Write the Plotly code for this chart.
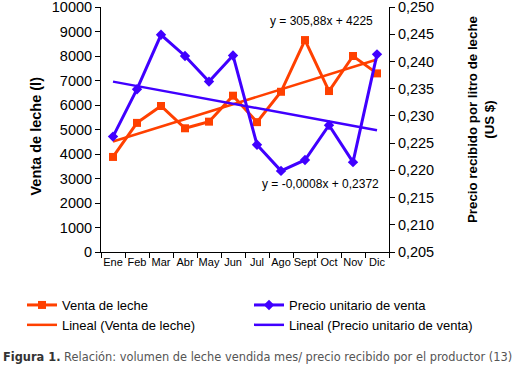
import numpy as np
import plotly.graph_objects as go

meses = ["Ene", "Feb", "Mar", "Abr", "May", "Jun", "Jul", "Ago", "Sept", "Oct", "Nov", "Dic"]
venta_leche = [3880, 5270, 5960, 5050, 5320, 6380, 5300, 6540, 8650, 6570, 8000, 7290]
precio_unitario = [0.2262, 0.2349, 0.2449, 0.2410, 0.2363, 0.2411, 0.2247, 0.2199, 0.2219, 0.2283, 0.2215, 0.2413]
eq_venta = "y = 305,88x + 4225"
eq_precio = "y = -0,0008x + 0,2372"

idx = np.arange(1, len(meses) + 1)
fit_v = np.polyfit(idx, venta_leche, 1)
fit_p = np.polyfit(idx, precio_unitario, 1)
trend_v = np.polyval(fit_v, idx)
trend_p = np.polyval(fit_p, idx)

ORANGE = "#FF4000"
BLUE = "#4000FF"
FONT = "Liberation Sans, Arial, sans-serif"

# plot area in pixels
L, R, T, B = 101, 389, 7, 252
W, H = 518, 367
pw, ph = R - L, B - T
def px(x): return (x - L) / pw
def py(y): return (B - y) / ph

fig = go.Figure()
fig.add_trace(go.Scatter(x=meses, y=venta_leche, name="Venta de leche", mode="lines+markers",
                         line=dict(color=ORANGE, width=3), marker=dict(symbol="square", size=8, color=ORANGE),
                         legend="legend"))
fig.add_trace(go.Scatter(x=meses, y=trend_v, name="Lineal (Venta de leche)", mode="lines",
                         line=dict(color=ORANGE, width=2.5), legend="legend"))
fig.add_trace(go.Scatter(x=meses, y=precio_unitario, name="Precio unitario de venta", mode="lines+markers",
                         line=dict(color=BLUE, width=3), marker=dict(symbol="diamond", size=8, color=BLUE),
                         yaxis="y2", legend="legend2"))
fig.add_trace(go.Scatter(x=meses, y=trend_p, name="Lineal (Precio unitario de venta)", mode="lines",
                         line=dict(color=BLUE, width=2.5), yaxis="y2", legend="legend2"))

axis_common = dict(showline=True, linecolor="black", linewidth=1, ticks="outside", ticklen=5,
                   tickcolor="black", showgrid=False, zeroline=False, automargin=False)

fig.update_layout(
    width=W, height=H,
    margin=dict(l=L, r=W - R, t=T, b=H - B, autoexpand=False),
    paper_bgcolor="white", plot_bgcolor="white",
    separators=",.",
    font=dict(family=FONT, color="black"),
    xaxis=dict(type="category", categoryorder="array", categoryarray=meses, range=[-0.5, 11.5],
               tickson="boundaries", tickangle=0, tickfont=dict(size=11), **axis_common),
    yaxis=dict(range=[0, 10000], dtick=1000, tick0=0, tickformat="d", tickfont=dict(size=14.5),
               ticklabeloverflow="allow", **axis_common),
    yaxis2=dict(range=[0.205, 0.250], dtick=0.005, tick0=0.205, tickformat=".3f", overlaying="y", side="right",
                tickfont=dict(size=14.5), ticklabeloverflow="allow", **axis_common),
    legend=dict(x=px(22), y=py(290), xanchor="left", yanchor="top", orientation="v",
                font=dict(size=13), itemwidth=30, bgcolor="rgba(0,0,0,0)", tracegroupgap=0),
    legend2=dict(x=px(249), y=py(290), xanchor="left", yanchor="top", orientation="v",
                 font=dict(size=13), itemwidth=30, bgcolor="rgba(0,0,0,0)", tracegroupgap=0),
    showlegend=True,
)

ann = []
ann.append(dict(text=eq_venta, x=px(321), y=py(21), xref="paper", yref="paper", showarrow=False,
                font=dict(size=12), xanchor="center", yanchor="middle"))
ann.append(dict(text=eq_precio, x=px(320), y=py(184), xref="paper", yref="paper", showarrow=False,
                font=dict(size=12), xanchor="center", yanchor="middle"))
ann.append(dict(text="<b>Venta de leche (l)</b>", x=px(35), y=py(136.5), xref="paper", yref="paper",
                showarrow=False, textangle=-90, font=dict(size=14.5), xanchor="center", yanchor="middle"))
ann.append(dict(text="<b>Precio recibido por litro de leche<br>(US $)</b>", x=px(481), y=py(120),
                xref="paper", yref="paper", showarrow=False, textangle=-90, font=dict(size=13.3),
                xanchor="center", yanchor="middle"))
ann.append(dict(text="<b>Figura 1.</b> <span style='color:#555555'>Relación: volumen de leche vendida mes/ precio recibido por el productor (13)</span>",
                x=px(1), y=py(357), xref="paper", yref="paper", showarrow=False,
                font=dict(size=11.4, family="DejaVu Sans, sans-serif", color="#333333"),
                xanchor="left", yanchor="middle"))
fig.update_layout(annotations=ann)

fig.write_html("out.html", config={"displayModeBar": False},
               post_script="document.body.style.margin='0px';document.body.style.overflow='hidden';")
